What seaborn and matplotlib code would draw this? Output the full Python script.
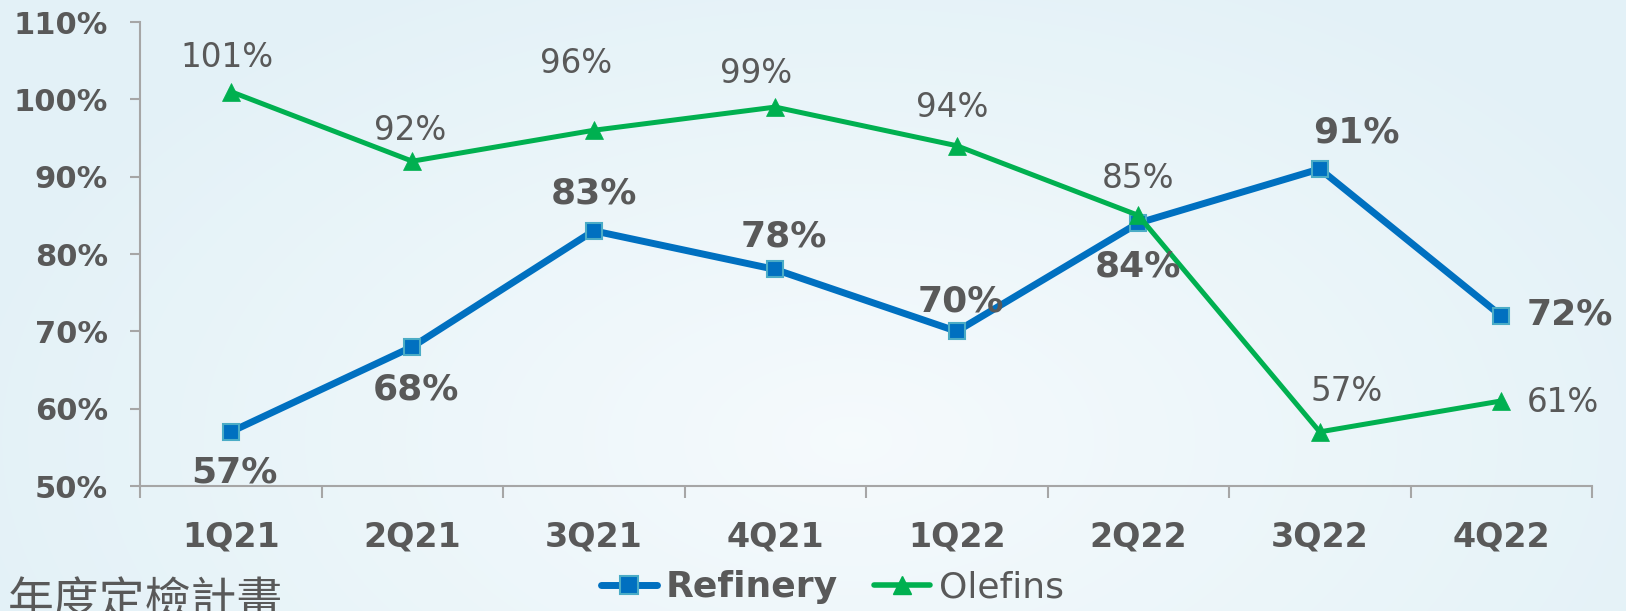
import numpy as np
import pandas as pd
import matplotlib
matplotlib.use("Agg")
import matplotlib.pyplot as plt
import seaborn as sns
from matplotlib.lines import Line2D
from matplotlib.ticker import FuncFormatter

# ---- data ----
quarters = ["1Q21", "2Q21", "3Q21", "4Q21", "1Q22", "2Q22", "3Q22", "4Q22"]
refinery = [57, 68, 83, 78, 70, 84, 91, 72]
olefins = [101, 92, 96, 99, 94, 85, 57, 61]
y_ticks = [50, 60, 70, 80, 90, 100, 110]
series_names = ["Refinery", "Olefins"]
footer_text = "年度定檢計畫"

# label placement (pixel offsets dx, dy(up), horizontal alignment)
ref_label_place = [(4, -41, "center"), (4, -43, "center"), (0, 37, "center"), (9, 33, "center"),
                   (4, 30, "center"), (0, -43, "center"), (37, 36, "center"), (25, 1, "left")]
ole_label_place = [(-4, 34, "center"), (-2, 31, "center"), (-18, 67, "center"), (-19, 34, "center"),
                   (-5, 38, "center"), (0, 37, "center"), (27, 40, "center"), (25, -2, "left")]

TXT = "#595959"
BLUE = "#0070c0"
GREEN = "#00b050"
AXC = "#a6a6a6"
PX = 0.72  # px -> pt at dpi 100

W, H = 1626, 611
fig = plt.figure(figsize=(W / 100, H / 100), dpi=100)

# background gradient
bg = fig.add_axes([0, 0, 1, 1], zorder=-10)
yy, xx = np.mgrid[0:H, 0:W]
r = np.sqrt(((xx - 850) / 900.0) ** 2 + ((yy - 440) / 520.0) ** 2)
r = np.clip(r, 0, 1)
c_in = np.array([0.962, 0.982, 0.990])
c_out = np.array([0.892, 0.947, 0.970])
img = c_in[None, None, :] * (1 - r[..., None]) + c_out[None, None, :] * r[..., None]
bg.imshow(img, aspect="auto", extent=[0, 1, 0, 1], origin="upper")
bg.axis("off")

ax = fig.add_axes([140 / W, 1 - 486 / H, (1592 - 140) / W, (486 - 22) / H])
ax.set_facecolor("none")

pos = np.arange(len(quarters))
df = pd.DataFrame({"pos": pos, "quarter": quarters, "Refinery": refinery, "Olefins": olefins})

sns.lineplot(data=df, x="pos", y="Refinery", ax=ax, color=BLUE, linewidth=5, marker="s",
             markersize=11.5, markerfacecolor=BLUE, markeredgecolor="#4bacc6",
             markeredgewidth=1.5, zorder=3, sort=False, legend=False)
sns.lineplot(data=df, x="pos", y="Olefins", ax=ax, color=GREEN, linewidth=3.6, marker="^",
             markersize=13, markerfacecolor=GREEN, markeredgecolor=GREEN,
             markeredgewidth=0.5, zorder=4, sort=False, legend=False)

ax.set_xlim(-0.5, len(quarters) - 0.5)
ax.set_ylim(y_ticks[0], y_ticks[-1])
ax.set_xlabel("")
ax.set_ylabel("")

ax.set_yticks(y_ticks)
ax.yaxis.set_major_formatter(FuncFormatter(lambda v, p: f"{v:.0f}%"))
ax.tick_params(axis="y", length=7, width=1.5, color=AXC, pad=16, labelsize=22, labelcolor=TXT)
for t in ax.get_yticklabels():
    t.set_fontweight("bold")

ax.set_xticks(pos)
ax.set_xticklabels(quarters, fontweight="bold")
ax.set_xticks(np.arange(-0.5, len(quarters), 1.0), minor=True)
ax.tick_params(axis="x", which="major", length=0, pad=25, labelsize=24, labelcolor=TXT)
ax.tick_params(axis="x", which="minor", length=8.5, width=1.5, color=AXC)

for s in ["top", "right"]:
    ax.spines[s].set_visible(False)
for s in ["left", "bottom"]:
    ax.spines[s].set_color(AXC)
    ax.spines[s].set_linewidth(1.5)

# data labels
for i, v in enumerate(refinery):
    dx, dy, ha = ref_label_place[i]
    ax.annotate(f"{v}%", (pos[i], v), xytext=(dx * PX, dy * PX), textcoords="offset points",
                ha=ha, va="center", fontsize=26, fontweight="bold", color=TXT, zorder=5)
for i, v in enumerate(olefins):
    dx, dy, ha = ole_label_place[i]
    ax.annotate(f"{v}%", (pos[i], v), xytext=(dx * PX, dy * PX), textcoords="offset points",
                ha=ha, va="center", fontsize=23.5, color=TXT, zorder=5)

# legend
handles = [
    Line2D([], [], color=BLUE, linewidth=5, marker="s", markersize=13, markerfacecolor=BLUE,
           markeredgecolor="#4bacc6", markeredgewidth=1.5, solid_capstyle="round"),
    Line2D([], [], color=GREEN, linewidth=4, marker="^", markersize=13, markerfacecolor=GREEN,
           markeredgecolor=GREEN, solid_capstyle="round"),
]
leg = fig.legend(handles, series_names, loc="center", bbox_to_anchor=(0.512, 0.039), ncol=2,
                 frameon=False, fontsize=26, handlelength=1.55, handletextpad=0.25,
                 columnspacing=1.0, labelcolor=TXT, borderaxespad=0, borderpad=0)
leg.get_texts()[0].set_fontweight("bold")

# footer text (cut off at the bottom, as in the original slide)
fig.text(8 / W, -0.006, footer_text, ha="left", va="baseline", fontsize=33, color=TXT,
         family=["Noto Sans CJK TC", "DejaVu Sans"])

fig.savefig("out.png", dpi=100)
